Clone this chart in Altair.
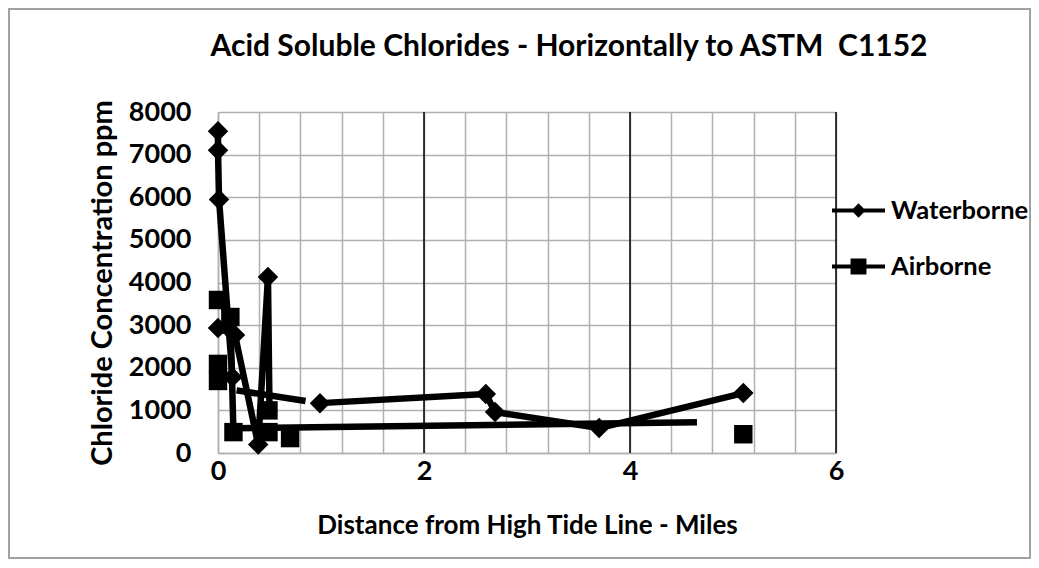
import altair as alt
import pandas as pd

# ---------------- data ----------------
SERIES = ["Waterborne", "Airborne"]

# marker positions
WATER_X = [0.0, 0.0, 0.01, 0.14, 0.0, 0.165, 0.39, 0.485, 0.99, 2.6, 2.69, 3.7, 5.1]
WATER_Y = [7550, 7100, 5950, 1780, 2930, 2770, 200, 4130, 1170, 1385, 960, 585, 1405]
AIR_X = [0.0, 0.12, 0.0, 0.0, 0.15, 0.49, 0.49, 0.70, 5.1]
AIR_Y = [3590, 3190, 2090, 1690, 490, 1000, 490, 350, 440]

# connecting line paths (segment id, x, y)
WATER_LINE_SEG = [1, 1, 1, 1, 2, 2, 2, 2, 2, 3, 3, 4, 4, 4, 4, 4]
WATER_LINE_X = [0.0, 0.0, 0.01, 0.14, 0.0, 0.165, 0.39, 0.485, 0.50, 0.18, 0.85, 0.99, 2.6, 2.69, 3.7, 5.1]
WATER_LINE_Y = [7550, 7100, 5950, 1780, 2930, 2770, 200, 4130, 1000, 1470, 1220, 1170, 1385, 960, 585, 1405]
AIR_LINE_SEG = [1, 1, 1, 2, 2]
AIR_LINE_X = [0.0, 0.12, 0.15, 0.15, 4.65]
AIR_LINE_Y = [3590, 3190, 490, 580, 720]

# axes
X_GRID = [round(i * 0.4, 1) for i in range(16)]
X_MAJOR = [2, 4, 6]
Y_TICKS = list(range(0, 8001, 1000))

# the reference shows two spaces before "C1152"
TITLE = "Acid Soluble Chlorides - Horizontally to ASTM \u00a0C1152"
X_TITLE = "Distance from High Tide Line - Miles"
Y_TITLE = "Chloride Concentration ppm"

# ---------------- tables ----------------
pts = pd.concat([
    pd.DataFrame({"series": "Waterborne", "x": WATER_X, "y": WATER_Y}),
    pd.DataFrame({"series": "Airborne", "x": AIR_X, "y": AIR_Y}),
])
lines = pd.concat([
    pd.DataFrame({"series": "Waterborne", "seg": [f"w{s}" for s in WATER_LINE_SEG],
                  "order": range(len(WATER_LINE_X)), "x": WATER_LINE_X, "y": WATER_LINE_Y}),
    pd.DataFrame({"series": "Airborne", "seg": [f"a{s}" for s in AIR_LINE_SEG],
                  "order": range(len(AIR_LINE_X)), "x": AIR_LINE_X, "y": AIR_LINE_Y}),
])
major = pd.DataFrame({"x": X_MAJOR})
title_df = pd.DataFrame({"t": [TITLE]})

FONT = "Lato, sans-serif"
GRID = "#b0b0b0"
FS = 27

xs = alt.Scale(domain=[0, 6], nice=False)
ys = alt.Scale(domain=[0, 8000], nice=False)

x_axis = alt.Axis(values=X_GRID,
                  labelExpr="datum.value % 2 == 0 ? format(datum.value, 'd') : ''",
                  grid=True, gridColor=GRID, gridWidth=1.5, ticks=False,
                  domainColor=GRID, domainWidth=1.5,
                  labelFont=FONT, labelFontSize=FS, labelFontWeight="bold", labelColor="black",
                  labelPadding=5, labelFlush=False, labelOverlap=False,
                  title=X_TITLE, titleFont=FONT, titleFontSize=26, titleFontWeight="bold",
                  titleColor="black", titlePadding=28)
y_axis = alt.Axis(values=Y_TICKS, format="d", grid=True, gridColor=GRID, gridWidth=1.5,
                  ticks=False, domainColor=GRID, domainWidth=1.5,
                  labelFont=FONT, labelFontSize=FS, labelFontWeight="bold", labelColor="black",
                  labelPadding=27, labelFlush=False, labelOverlap=False,
                  title=Y_TITLE, titleFont=FONT, titleFontSize=29, titleFontWeight="bold",
                  titleColor="black", titlePadding=11)

base_grid = alt.Chart(major).mark_rule(color="black", strokeWidth=1.5).encode(
    x=alt.X("x:Q", scale=xs, axis=x_axis),
)

line_layer = alt.Chart(lines).mark_line(color="black", strokeWidth=6.5, strokeJoin="round").encode(
    x=alt.X("x:Q", scale=xs, axis=x_axis),
    y=alt.Y("y:Q", scale=ys, axis=y_axis),
    detail="seg:N",
    order="order:Q",
)

pt_layer = alt.Chart(pts).mark_point(filled=True, color="black", opacity=1).encode(
    x=alt.X("x:Q", scale=xs),
    y=alt.Y("y:Q", scale=ys),
    shape=alt.Shape("series:N", scale=alt.Scale(domain=SERIES, range=["diamond", "square"]),
                    legend=None),
    size=alt.Size("series:N", scale=alt.Scale(domain=SERIES, range=[420, 340]), legend=None),
)

LEG_W = "M-1,-0.075H1V0.075H-1Z M-0.27,0L0,-0.27L0.27,0L0,0.27Z"
LEG_A = "M-1,-0.075H1V0.075H-1Z M-0.3,-0.3H0.3V0.3H-0.3Z"

legend_layer = alt.Chart(pts).transform_filter("false").mark_point(
    filled=True, color="black").encode(
    x=alt.X("x:Q", scale=xs),
    y=alt.Y("y:Q", scale=ys),
    shape=alt.Shape("series:N", scale=alt.Scale(domain=SERIES, range=[LEG_W, LEG_A]),
                    legend=alt.Legend(title=None, orient="none", legendX=614, legendY=72,
                                      symbolSize=2809, symbolStrokeWidth=0,
                                      symbolFillColor="black", symbolOpacity=1,
                                      labelFont=FONT, labelFontSize=25.5, labelFontWeight="bold",
                                      labelColor="black", labelOffset=6, rowPadding=16,
                                      padding=0)),
)

title_layer = alt.Chart(title_df).mark_text(
    font=FONT, fontSize=30, fontWeight="bold", color="black", align="center", baseline="middle"
).encode(text="t:N", x=alt.value(351), y=alt.value(-65))

border = alt.Chart(major).mark_rect(fill=None, stroke="#a0a0a0", strokeWidth=1.5).encode(
    x=alt.value(-209), x2=alt.value(812), y=alt.value(-103), y2=alt.value(446),
)

chart = alt.layer(border, base_grid, line_layer, pt_layer, legend_layer, title_layer).resolve_scale(
    shape="independent", size="independent"
).properties(
    width=618, height=341,
    autosize=alt.AutoSizeParams(type="none"),
    padding={"left": 210, "top": 104, "right": 195, "bottom": 107},
).configure_view(stroke=None)

chart.save("out.html", embed_options={"renderer": "svg", "actions": False})
